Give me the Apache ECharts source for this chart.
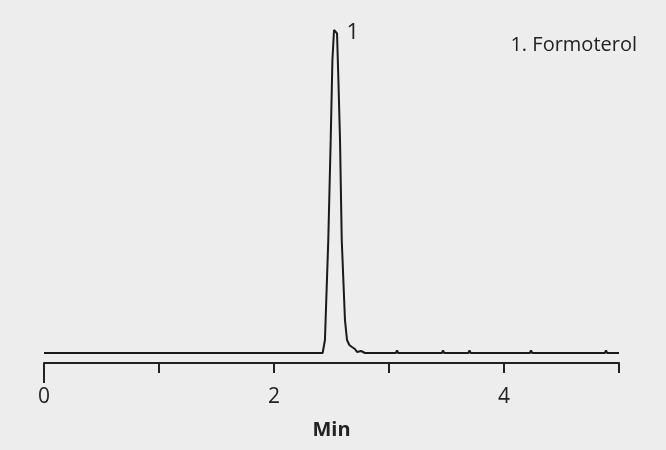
<!DOCTYPE html>
<html>
<head>
<meta charset="utf-8">
<script src="https://cdn.jsdelivr.net/npm/echarts@6/dist/echarts.min.js"></script>
<style>
html,body{margin:0;padding:0;background:#ededed;}
#c{width:666px;height:450px;}
</style>
</head>
<body>
<div id="c"></div>
<script>
// Retention time (min)
var times = [0, 2.40, 2.423, 2.443, 2.472, 2.493, 2.508, 2.522, 2.535, 2.548, 2.560, 2.574, 2.589, 2.617, 2.635, 2.655, 2.678, 2.704, 2.722, 2.730, 2.739, 2.757, 2.774, 2.791,
  3.06, 3.07, 3.08, 3.46, 3.47, 3.48, 3.69, 3.70, 3.71, 4.225, 4.235, 4.245, 4.877, 4.887, 4.897, 5.0];
// Detector response (relative)
var values = [0, 0, 0, 3.9, 33.9, 64, 88, 97, 96.5, 96, 82, 64, 34, 9.9, 3.9, 2.4, 1.8, 1.2, 0.3, 0.75, 0, 0.6, 0.3, 0,
  0, 0.8, 0, 0, 0.8, 0, 0, 0.8, 0, 0, 0.8, 0, 0, 0.8, 0, 0];
var peakLabels = ["1"];
var compoundList = ["1. Formoterol"];
var xTicks = [0, 2, 4];

var font = "'Open Sans', 'Noto Sans', sans-serif";
var data = times.map(function (t, i) { return [t, values[i]]; });

var chart = echarts.init(document.getElementById('c'));
chart.setOption({
  backgroundColor: '#ededed',
  animation: false,
  title: {
    text: compoundList.join('\n'), right: 24, top: 30,
    textStyle: { fontSize: 20, fontWeight: 'normal', fontFamily: font, color: '#222' }
  },
  grid: { left: 44, right: 47, top: 20, bottom: 97 },
  xAxis: [{
    type: 'value', min: 0, max: 5, interval: 1, offset: 10,
    axisLine: { show: true, onZero: false, lineStyle: { color: '#222', width: 2 } },
    axisTick: { show: true, inside: false, length: 10, lineStyle: { color: '#222', width: 2 } },
    axisLabel: { margin: 24, fontSize: 21, fontFamily: font, color: '#222',
      formatter: function (v) { return xTicks.indexOf(v) >= 0 ? String(v) : ''; } },
    splitLine: { show: false },
    name: 'Min', nameLocation: 'middle', nameGap: 57,
    nameTextStyle: { fontSize: 20, fontWeight: 'bold', fontFamily: font, color: '#222' }
  }, {
    type: 'value', min: 0, max: 5, position: 'bottom', offset: 10,
    axisLine: { show: false, onZero: false },
    axisTick: { show: true, length: 20, customValues: [0], lineStyle: { color: '#222', width: 2 } },
    axisLabel: { show: false },
    splitLine: { show: false }
  }],
  yAxis: { type: 'value', min: 0, max: 100, show: false },
  series: [{
    type: 'line', data: data, showSymbol: false, symbol: 'none',
    lineStyle: { color: '#1a1a1a', width: 2 },
    emphasis: { disabled: true },
    markPoint: {
      symbol: 'circle', symbolSize: 1, itemStyle: { color: 'rgba(0,0,0,0)' },
      data: [{ type: 'max', valueDim: 'y' }],
      label: { show: true, formatter: peakLabels[0], position: 'right', distance: 12, offset: [0, 3],
        fontSize: 22, fontFamily: font, color: '#222' }
    }
  }]
});
</script>
</body>
</html>
